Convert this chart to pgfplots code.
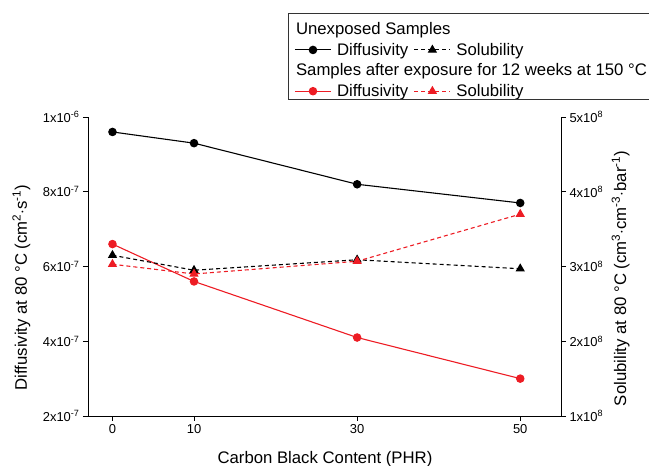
\documentclass[border=0pt]{standalone}
\usepackage{pgfplots}
\pgfplotsset{compat=1.18}
\usepackage{fontspec}
\setmainfont{Liberation Sans}
\definecolor{myred}{RGB}{237,28,36}
\newcommand{\lblfont}{\fontsize{16.8}{19}\selectfont}
\newcommand{\tckfont}{\fontsize{13}{15}\selectfont}
\begin{document}
\begin{tikzpicture}[x=1bp,y=1bp]
\path[use as bounding box] (-88,-50) rectangle (561,416);
\pgfplotsset{
  common/.style={
    at={(0,0)}, anchor=south west,
    scale only axis, width=473bp, height=299bp,
    xmin=-3, xmax=55,
    tick align=outside, major tick length=5bp,
    every tick/.style={black, line width=0.8bp},
    axis line style={black, line width=0.8bp},
    tick label style={font=\tckfont},
    label style={font=\lblfont},
    scaled ticks=false,
    clip=false,
  }
}
\begin{axis}[common,
  axis x line*=bottom, axis y line*=left,
  ymin=2e-7, ymax=1e-6,
  xtick={0,10,30,50},
  xticklabels={0,10,30,50},
  ytick={2e-7,4e-7,6e-7,8e-7,1e-6},
  yticklabels={2x10\textsuperscript{-7},4x10\textsuperscript{-7},6x10\textsuperscript{-7},8x10\textsuperscript{-7},1x10\textsuperscript{-6}},
  xlabel={Carbon Black Content (PHR)},
  xlabel style={at={(axis description cs:0.501,-0.144)}, anchor=center},
  ylabel={Diffusivity at 80 \textdegree C (cm\textsuperscript{2}$\cdot$s\textsuperscript{-1})},
  ylabel style={at={(axis description cs:-0.141,0.43)}, anchor=center},
]
\addplot[black, line width=1.1bp, mark=*, mark size=3.7bp, mark options={solid}] coordinates {(0,9.6e-7) (10,9.3e-7) (30,8.2e-7) (50,7.7e-7)};
\addplot[myred, line width=1.1bp, mark=*, mark size=3.7bp, mark options={solid}] coordinates {(0,6.6e-7) (10,5.6e-7) (30,4.1e-7) (50,3.0e-7)};
\end{axis}
\begin{axis}[common,
  axis x line=none, axis y line*=right,
  ymin=1e8, ymax=5e8,
  ytick={1e8,2e8,3e8,4e8,5e8},
  yticklabels={1x10\textsuperscript{8},2x10\textsuperscript{8},3x10\textsuperscript{8},4x10\textsuperscript{8},5x10\textsuperscript{8}},
  legend columns=2,
  legend style={at={(axis description cs:0.436,1.32)}, anchor=north west, draw=none, fill=none,
    font=\lblfont, row sep=5bp, column sep=4.5bp, inner sep=0bp,
    nodes={inner sep=1bp, anchor=west}},
  legend image code/.code={\draw[mark repeat=2, mark phase=2, #1] plot coordinates {(0bp,0bp) (18bp,0bp) (36bp,0bp)};},
]
\addplot[black, line width=1.1bp, dash pattern=on 4bp off 3bp, mark=triangle*, mark size=4.3bp, mark options={solid}, forget plot] coordinates {(0,3.15e8) (10,2.95e8) (30,3.09e8) (50,2.97e8)};
\addplot[myred, line width=1.1bp, dash pattern=on 4bp off 3bp, mark=triangle*, mark size=4.3bp, mark options={solid}, forget plot] coordinates {(0,3.03e8) (10,2.9e8) (30,3.07e8) (50,3.7e8)};
\addlegendimage{empty legend}\addlegendentry{\makebox[0pt][l]{\hspace*{-41bp}Unexposed Samples}}
\addlegendimage{empty legend}\addlegendentry{\mbox{}}
\addlegendimage{black, line width=1.1bp, mark=*, mark size=3.7bp, mark options={solid}}\addlegendentry{Diffusivity}
\addlegendimage{black, line width=1.1bp, dash pattern=on 4bp off 3bp, mark=triangle*, mark size=4.3bp, mark options={solid}}\addlegendentry{Solubility}
\addlegendimage{empty legend}\addlegendentry{\makebox[0pt][l]{\hspace*{-41bp}Samples after exposure for 12 weeks at 150 \textdegree C}}
\addlegendimage{empty legend}\addlegendentry{\mbox{}}
\addlegendimage{myred, line width=1.1bp, mark=*, mark size=3.7bp, mark options={solid}}\addlegendentry{Diffusivity}
\addlegendimage{myred, line width=1.1bp, dash pattern=on 4bp off 3bp, mark=triangle*, mark size=4.3bp, mark options={solid}}\addlegendentry{Solubility}
\node[rotate=90, anchor=center, font=\lblfont] at (axis description cs:1.126,0.46) {Solubility at 80 \textdegree C (cm\textsuperscript{3}$\cdot$cm\textsuperscript{-3}$\cdot$bar\textsuperscript{-1})};
\end{axis}
\draw[line width=0.9bp, black!80] (200,317) rectangle (620,403);
\end{tikzpicture}
\end{document}
